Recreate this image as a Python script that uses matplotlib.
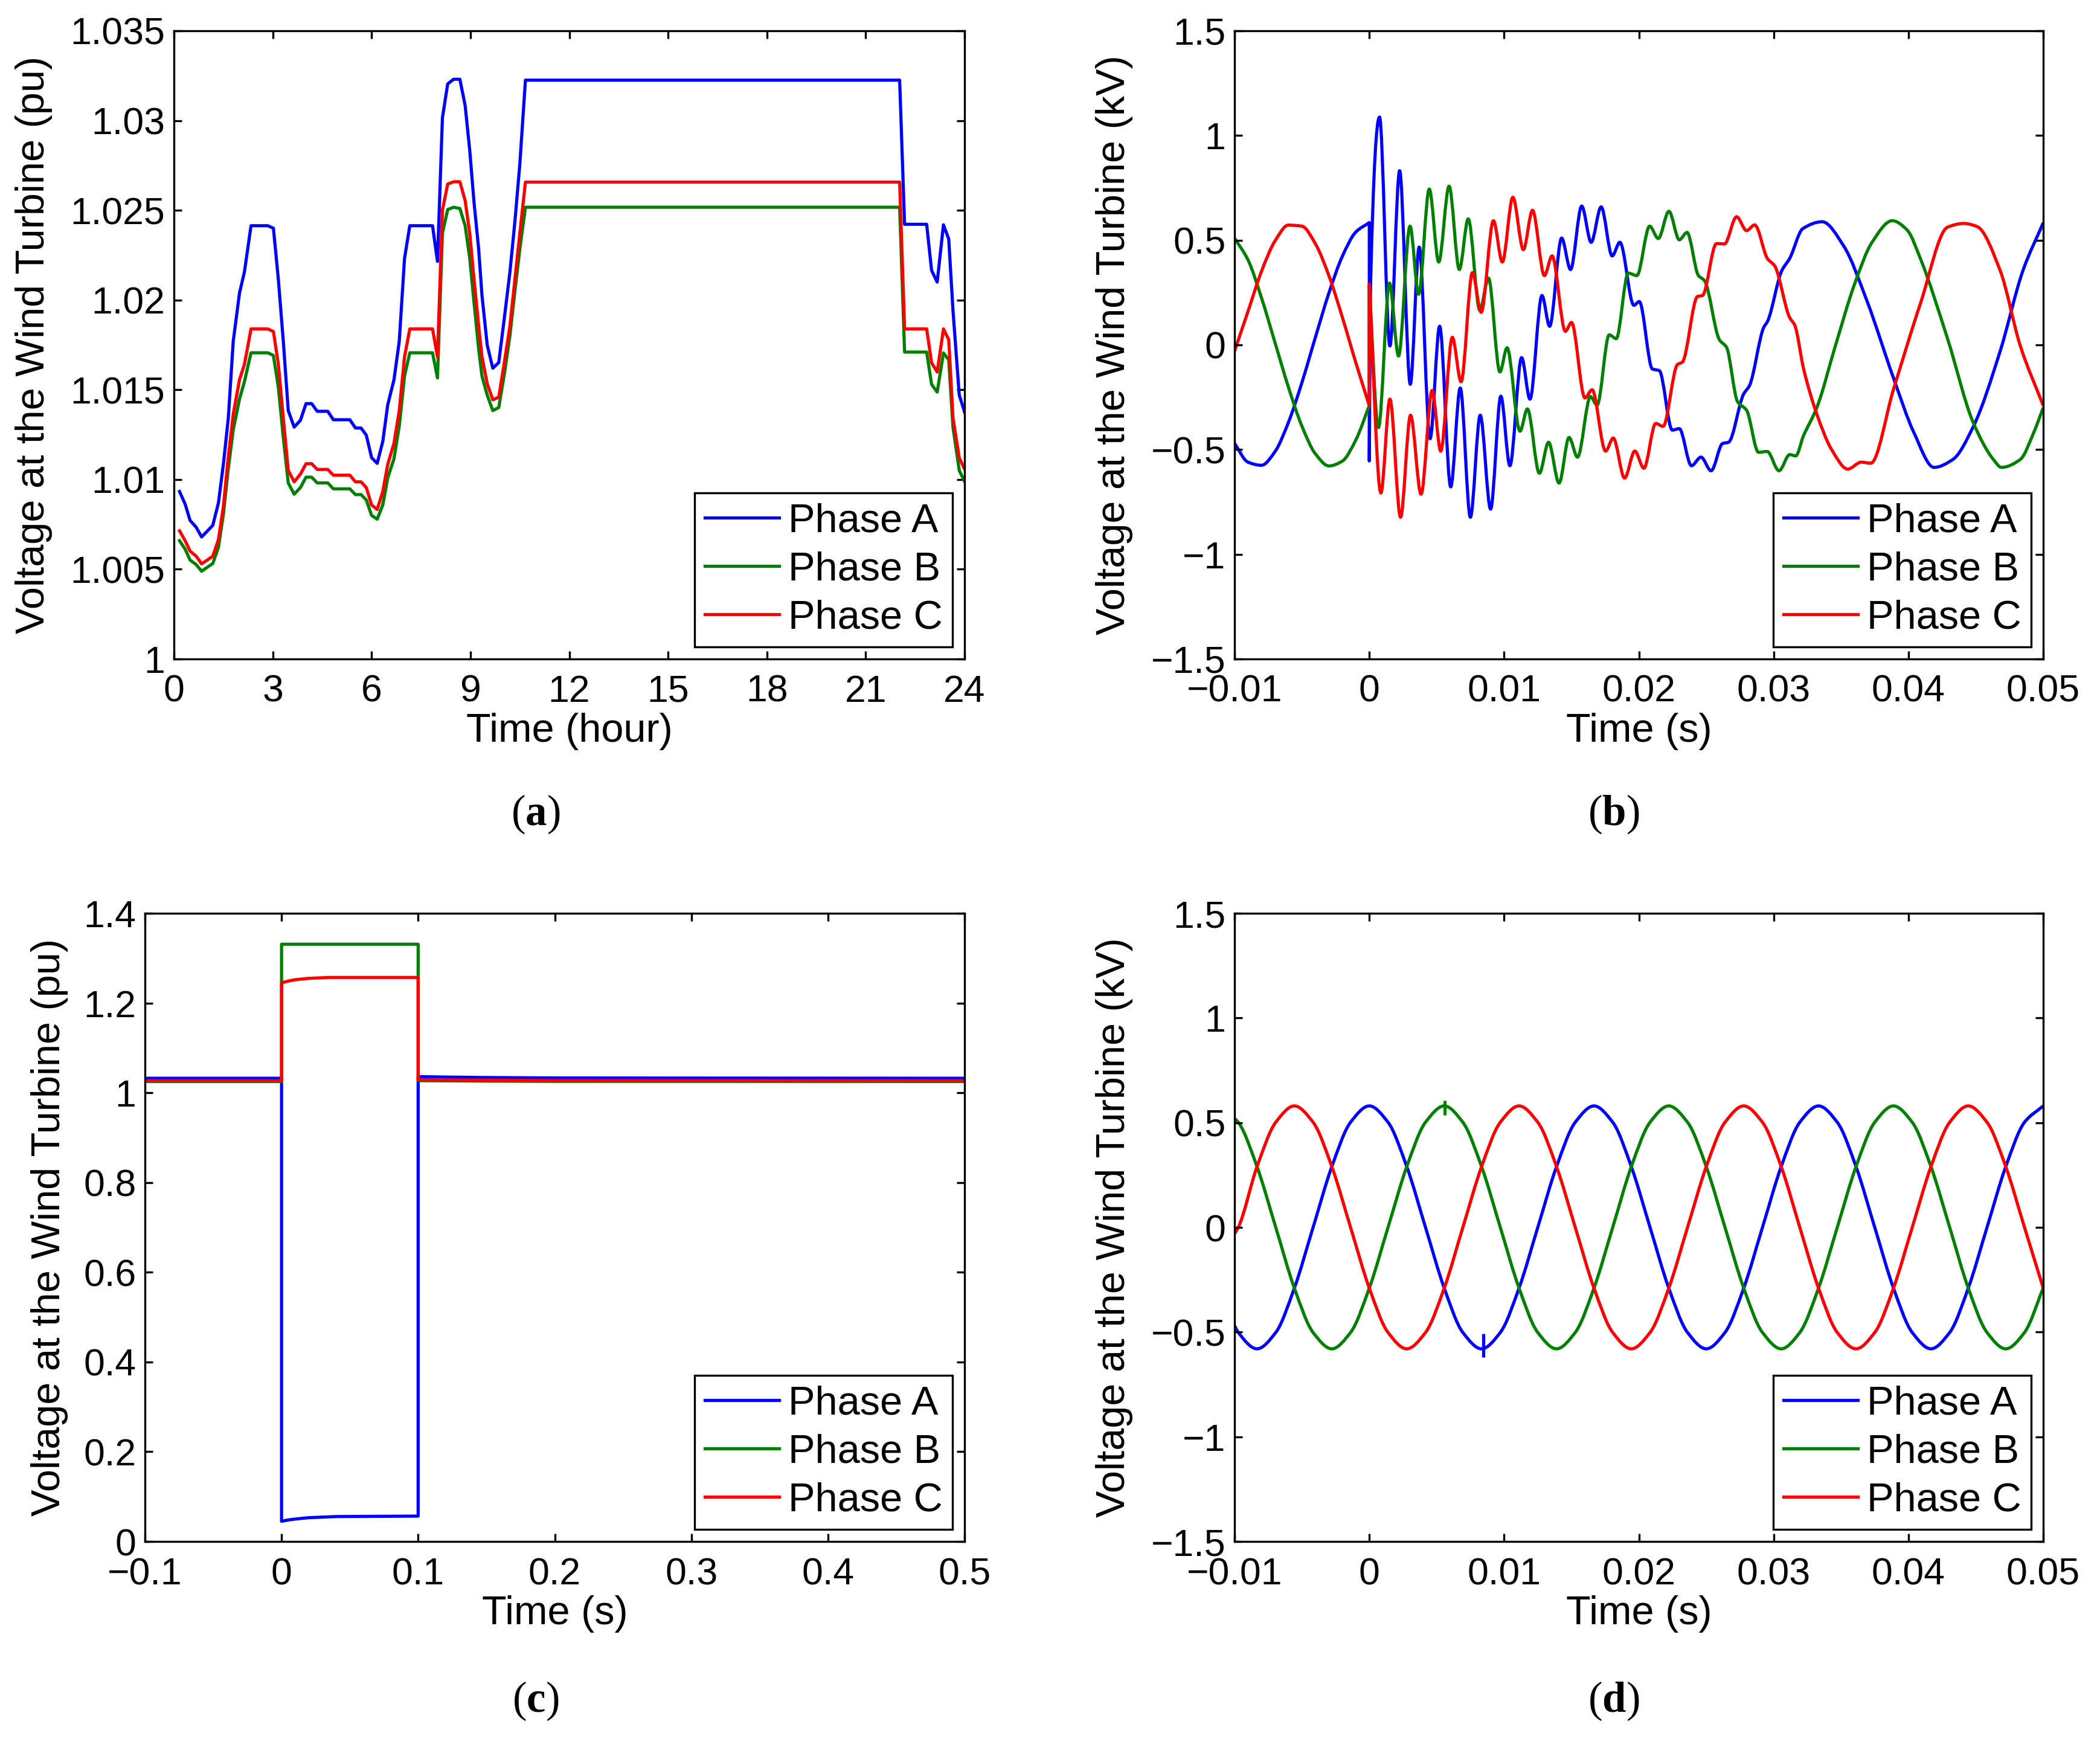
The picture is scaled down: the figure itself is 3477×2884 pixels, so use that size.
import numpy as np
import matplotlib
matplotlib.use("Agg")
import matplotlib.pyplot as plt
from matplotlib.path import Path
from matplotlib.patches import PathPatch
from matplotlib.lines import Line2D

plt.rcParams['font.family'] = ['Liberation Sans', 'DejaVu Sans']
plt.rcParams['mathtext.fontset'] = 'custom'
plt.rcParams['mathtext.rm'] = 'Liberation Serif'
plt.rcParams['mathtext.bf'] = 'Liberation Serif:bold'

# ---------------- data ----------------
phase_names = ['Phase A', 'Phase B', 'Phase C']
phase_colors = ['#0000ff', '#008000', '#ff0000']

# (a) 24-hour profile (pu)
hours = [0.17, 0.34, 0.49, 0.675, 0.84, 1.01, 1.18, 1.35, 1.5, 1.65,
         1.8, 1.99, 2.14, 2.34, 2.85, 3.02, 3.17, 3.32, 3.47, 3.65,
         3.84, 4.01, 4.18, 4.35, 4.67, 4.84, 5.34, 5.51, 5.68, 5.84,
         6.0, 6.17, 6.34, 6.49, 6.68, 6.84, 7.0, 7.16, 7.85, 8.0,
         8.15, 8.31, 8.49, 8.68, 8.84, 8.98, 9.11, 9.25, 9.35, 9.51,
         9.68, 9.86, 10.03, 10.2, 10.35, 10.5, 10.67, 22.03, 22.18, 22.85,
         23.0, 23.17, 23.36, 23.52, 23.65, 23.84, 24.0]
a_phaseA = [1.00933, 1.00863, 1.00772, 1.00734, 1.0068, 1.00712, 1.00745, 1.00869, 1.01084, 1.01341,
            1.0177, 1.02039, 1.02157, 1.02414, 1.02414, 1.024, 1.02114, 1.0177, 1.01384, 1.01292,
            1.0133, 1.01423, 1.01423, 1.0138, 1.0138, 1.01333, 1.01333, 1.01287, 1.01287, 1.01247,
            1.01122, 1.0109, 1.01212, 1.01416, 1.01556, 1.0177, 1.02232, 1.02414, 1.02414, 1.02215,
            1.03015, 1.03204, 1.0323, 1.0323, 1.03084, 1.02833, 1.02543, 1.02285, 1.02028, 1.01749,
            1.0162, 1.01652, 1.019, 1.02157, 1.02436, 1.02757, 1.03225, 1.03225, 1.02422, 1.02422,
            1.02165, 1.021, 1.02419, 1.0234, 1.0194, 1.0147, 1.01376]
a_phaseB = [1.00659, 1.00612, 1.00551, 1.00526, 1.00489, 1.00511, 1.00532, 1.00622, 1.00805, 1.01062,
            1.01277, 1.01448, 1.01545, 1.01706, 1.01706, 1.01691, 1.01513, 1.01234, 1.00981, 1.00918,
            1.00955, 1.01013, 1.01013, 1.00981, 1.00981, 1.00948, 1.00948, 1.00916, 1.00916, 1.00886,
            1.008, 1.00779, 1.00858, 1.01009, 1.01116, 1.01298, 1.01577, 1.01706, 1.01706, 1.01566,
            1.02371, 1.02504, 1.02517, 1.0251, 1.02414, 1.02232, 1.01985, 1.01727, 1.01577, 1.0147,
            1.01384, 1.01401, 1.01588, 1.01803, 1.02049, 1.02285, 1.02517, 1.02517, 1.0171, 1.0171,
            1.0153, 1.01487, 1.01705, 1.01667, 1.0129, 1.0105, 1.0099]
a_phaseC = [1.00714, 1.00659, 1.00601, 1.00573, 1.0053, 1.00551, 1.00573, 1.00665, 1.00848, 1.01127,
            1.01363, 1.01556, 1.01642, 1.01839, 1.01839, 1.01824, 1.01642, 1.01341, 1.01051, 1.00987,
            1.0103, 1.01088, 1.01088, 1.01056, 1.01056, 1.01024, 1.01024, 1.00987, 1.00987, 1.00955,
            1.00858, 1.00833, 1.00933, 1.01084, 1.01202, 1.01384, 1.01684, 1.01839, 1.01839, 1.01684,
            1.025, 1.02646, 1.02659, 1.02659, 1.02554, 1.02371, 1.02114, 1.01856, 1.01684, 1.01534,
            1.01444, 1.01459, 1.01652, 1.01856, 1.02114, 1.02371, 1.02657, 1.02657, 1.01839, 1.01839,
            1.0165, 1.01599, 1.01839, 1.01779, 1.01342, 1.0112, 1.01059]

# (b) fault transient waveform, (time ms, kV)
b_phaseA = [(-10, -0.47), (-9, -0.56), (-8, -0.575), (-7, -0.51), (-6, -0.37), (-5, -0.18), (-4, 0.036),
            (-3, 0.247), (-2, 0.423), (-1, 0.539), (0, 0.584), (0, -0.554), (0.1, 0.30), (0.76, 1.088),
            (1.53, -0.005), (2.25, 0.832), (3.04, -0.188), (3.70, 0.467), (4.51, -0.448), (5.22, 0.089),
            (6.04, -0.678), (6.75, -0.206), (7.5, -0.823), (8.23, -0.336), (9.0, -0.784), (9.76, -0.245),
            (10.43, -0.577), (11.3, -0.061), (11.92, -0.259), (12.81, 0.236), (13.38, 0.089), (14.27, 0.51),
            (14.93, 0.36), (15.76, 0.663), (16.46, 0.49), (17.2, 0.659), (18.02, 0.425), (18.59, 0.49),
            (19.63, 0.189), (20.03, 0.207), (21.0, -0.115), (21.52, -0.123), (22.48, -0.407), (23.0, -0.40),
            (23.9, -0.577), (24.61, -0.536), (25.36, -0.601), (26.21, -0.471), (26.65, -0.465), (27.77, -0.235),
            (28.21, -0.194), (29.26, 0.083), (29.55, 0.113), (30.6, 0.354), (31.19, 0.413), (32.16, 0.555),
            (33.6, 0.588), (35.2, 0.472), (36.9, 0.214), (38.9, -0.16), (40.4, -0.418), (41.9, -0.585),
            (43.3, -0.547), (44.8, -0.392), (46.8, -0.031), (48.5, 0.356), (50.0, 0.583)]
b_phaseB = [(-10, 0.51), (-9, 0.406), (-8, 0.225), (-7, 0.012), (-6, -0.202), (-5, -0.388), (-4, -0.52),
            (-3, -0.578), (-2, -0.555), (-1, -0.454), (0, -0.29), (0, 0.28), (0.68, -0.395), (1.50, 0.295),
            (2.17, -0.053), (3.02, 0.567), (3.66, 0.242), (4.45, 0.744), (5.15, 0.396), (5.92, 0.758),
            (6.68, 0.36), (7.34, 0.602), (8.2, 0.165), (8.84, 0.319), (9.69, -0.129), (10.22, -0.014),
            (11.18, -0.412), (11.73, -0.306), (12.62, -0.613), (13.3, -0.465), (14.08, -0.66), (14.82, -0.442),
            (15.45, -0.536), (16.41, -0.247), (16.9, -0.288), (17.8, 0.048), (18.32, 0.03), (19.21, 0.343),
            (19.85, 0.331), (20.8, 0.567), (21.44, 0.508), (22.23, 0.638), (23.0, 0.502), (23.57, 0.537),
            (24.42, 0.331), (24.87, 0.307), (25.98, 0.024), (26.5, -0.011), (27.32, -0.271), (27.99, -0.312),
            (28.88, -0.513), (29.52, -0.509), (30.4, -0.601), (31.19, -0.524), (31.64, -0.53), (32.2, -0.436),
            (33.2, -0.30), (34.6, 0.0), (36.0, 0.29), (37.3, 0.49), (38.8, 0.593), (39.9, 0.549), (40.9, 0.41),
            (42.9, 0.03), (44.8, -0.37), (46.3, -0.547), (46.9, -0.585), (48.3, -0.547), (49.3, -0.418),
            (50.0, -0.30)]
b_phaseC = [(-10, -0.03), (-9, 0.16), (-8, 0.351), (-7, 0.496), (-6, 0.572), (-5, 0.567), (-4, 0.483),
            (-3, 0.331), (-2, 0.132), (-1, -0.085), (0, -0.29), (0, 0.29), (0.86, -0.707), (1.53, -0.259),
            (2.32, -0.823), (3.06, -0.336), (3.84, -0.713), (4.66, -0.218), (5.3, -0.507), (6.16, 0.036),
            (6.81, -0.176), (7.65, 0.345), (8.30, 0.156), (9.21, 0.593), (9.87, 0.396), (10.65, 0.705),
            (11.43, 0.455), (12.11, 0.643), (12.99, 0.331), (13.56, 0.425), (14.55, 0.065), (15.0, 0.107),
            (16.0, -0.253), (16.53, -0.214), (17.53, -0.507), (18.1, -0.445), (18.94, -0.636), (19.7, -0.507),
            (20.37, -0.589), (21.25, -0.375), (21.79, -0.389), (22.86, -0.094), (23.23, -0.082), (24.35, 0.231),
            (24.72, 0.236), (25.76, 0.484), (26.35, 0.482), (27.25, 0.612), (27.99, 0.546), (28.59, 0.573),
            (29.55, 0.411), (30.07, 0.378), (31.19, 0.13), (31.56, 0.095), (32.23, -0.117), (33.2, -0.33),
            (34.3, -0.50), (35.5, -0.593), (36.5, -0.56), (37.2, -0.565), (38.9, -0.21), (40.9, 0.2),
            (42.9, 0.562), (44.1, 0.58), (45.1, 0.565), (46.8, 0.356), (48.3, -0.005), (50.0, -0.29)]

# (c) RMS voltage during the fault (time s, pu)
c_time_A = [-0.1, 0, 0, 0.005, 0.01, 0.02, 0.04, 0.1, 0.1, 0.12, 0.15, 0.2, 0.5]
c_phaseA = [1.0323, 1.0323, 0.045, 0.048, 0.050, 0.053, 0.0555, 0.0565, 1.036, 1.035, 1.034, 1.033, 1.0323]
c_time_B = [-0.1, 0, 0, 0.1, 0.1, 0.15, 0.2, 0.5]
c_phaseB = [1.0252, 1.0252, 1.331, 1.331, 1.027, 1.026, 1.0255, 1.0252]
c_time_C = [-0.1, 0, 0, 0.005, 0.01, 0.02, 0.035, 0.1, 0.1, 0.15, 0.2, 0.5]
c_phaseC = [1.0266, 1.0266, 1.245, 1.249, 1.252, 1.255, 1.257, 1.257, 1.029, 1.028, 1.027, 1.0266]

# (d) waveform with protection (time ms, kV)
d_time = [-10, -9.72, -8.33, -6.94, -5.56, -4.17, -2.78, -1.39, 0, 1.39, 2.78, 4.17, 5.56, 6.94, 8.33,
          9.72, 11.11, 12.5, 13.89, 15.28, 16.67, 18.06, 19.44, 20.83, 22.22, 23.61, 25.0, 26.39, 27.78,
          29.17, 30.56, 31.94, 33.33, 34.72, 36.11, 37.5, 38.89, 40.28, 41.67, 43.06, 44.44, 45.83, 47.22,
          48.61, 50.0]
d_phaseA = [-0.47, -0.502, -0.58, -0.502, -0.29, 0, 0.29, 0.502,
            0.58, 0.502, 0.29, 0, -0.29, -0.502, -0.58, -0.502, -0.29, 0, 0.29, 0.502,
            0.58, 0.502, 0.29, 0, -0.29, -0.502, -0.58, -0.502, -0.29, 0, 0.29, 0.502,
            0.58, 0.502, 0.29, 0, -0.29, -0.502, -0.58, -0.502, -0.29, 0, 0.29, 0.502,
            0.58]
d_phaseB = [0.52, 0.502, 0.29, 0, -0.29, -0.502, -0.58, -0.502,
            -0.29, 0, 0.29, 0.502, 0.58, 0.502, 0.29, 0, -0.29, -0.502, -0.58, -0.502,
            -0.29, 0, 0.29, 0.502, 0.58, 0.502, 0.29, 0, -0.29, -0.502, -0.58, -0.502,
            -0.29, 0, 0.29, 0.502, 0.58, 0.502, 0.29, 0, -0.29, -0.502, -0.58, -0.502,
            -0.29]
d_phaseC = [-0.03, 0, 0.29, 0.502, 0.58, 0.502, 0.29, 0,
            -0.29, -0.502, -0.58, -0.502, -0.29, 0, 0.29, 0.502, 0.58, 0.502, 0.29, 0,
            -0.29, -0.502, -0.58, -0.502, -0.29, 0, 0.29, 0.502, 0.58, 0.502, 0.29, 0,
            -0.29, -0.502, -0.58, -0.502, -0.29, 0, 0.29, 0.502, 0.58, 0.502, 0.29, 0,
            -0.29]
d_spike_time = [5.6, 8.45]          # ms
d_spike_low = [0.536, -0.62]
d_spike_high = [0.607, -0.509]
d_spike_phase = [1, 0]

# tick labels
a_xticks = [0, 3, 6, 9, 12, 15, 18, 21, 24]
a_yticks = [1.0, 1.005, 1.01, 1.015, 1.02, 1.025, 1.03, 1.035]
a_yticklabels = ['1', '1.005', '1.01', '1.015', '1.02', '1.025', '1.03', '1.035']
kv_xticks = [-0.01, 0, 0.01, 0.02, 0.03, 0.04, 0.05]
kv_xticklabels = ['\u22120.01', '0', '0.01', '0.02', '0.03', '0.04', '0.05']
kv_yticks = [-1.5, -1, -0.5, 0, 0.5, 1, 1.5]
kv_yticklabels = ['\u22121.5', '\u22121', '\u22120.5', '0', '0.5', '1', '1.5']
c_xticks = [-0.1, 0, 0.1, 0.2, 0.3, 0.4, 0.5]
c_xticklabels = ['\u22120.1', '0', '0.1', '0.2', '0.3', '0.4', '0.5']
c_yticks = [0, 0.2, 0.4, 0.6, 0.8, 1.0, 1.2, 1.4]
c_yticklabels = ['0', '0.2', '0.4', '0.6', '0.8', '1', '1.2', '1.4']

# ---------------- helpers ----------------
def smooth_path(x, y):
    """Monotone cubic (Fritsch-Carlson) curve through the points, as a Bezier path."""
    x = np.asarray(x, float)
    y = np.asarray(y, float)
    n = len(x)
    h = np.diff(x)
    d = np.array([(y[i + 1] - y[i]) / h[i] if h[i] > 0 else np.nan for i in range(n - 1)])
    m = np.zeros(n)
    for i in range(n):
        left = d[i - 1] if (i > 0 and h[i - 1] > 0) else None
        right = d[i] if (i < n - 1 and h[i] > 0) else None
        if left is None and right is None:
            m[i] = 0.0
        elif left is None:
            m[i] = right
        elif right is None:
            m[i] = left
        elif left * right <= 0:
            m[i] = 0.0
        else:
            hl, hr = h[i - 1], h[i]
            w1 = 2 * hr + hl
            w2 = hr + 2 * hl
            m[i] = (w1 + w2) / (w1 / left + w2 / right)
    verts = [(x[0], y[0])]
    codes = [Path.MOVETO]
    for i in range(n - 1):
        if h[i] <= 0:
            verts.append((x[i + 1], y[i + 1]))
            codes.append(Path.LINETO)
        else:
            verts += [(x[i] + h[i] / 3, y[i] + m[i] * h[i] / 3),
                      (x[i + 1] - h[i] / 3, y[i + 1] - m[i + 1] * h[i] / 3),
                      (x[i + 1], y[i + 1])]
            codes += [Path.CURVE4] * 3
    return Path(verts, codes)


def draw_smooth(ax, x, y, color, lw):
    patch = PathPatch(smooth_path(x, y), facecolor='none', edgecolor=color, lw=lw,
                      capstyle='butt', joinstyle='round')
    ax.add_patch(patch)


W, H = 3477, 2884
LW = 1.25
TICK_FS = 15
LABEL_FS = 16


def px_axes(fig, left, right, top, bottom):
    return fig.add_axes([left / W, 1 - bottom / H, (right - left) / W, (bottom - top) / H])


def style(ax, xlim, ylim, xticks, xticklabels, yticks, yticklabels, xlabel, ylabel, ylab_x):
    ax.set_xlim(*xlim)
    ax.set_ylim(*ylim)
    ax.set_xticks(xticks)
    ax.set_xticklabels(xticklabels)
    ax.set_yticks(yticks)
    ax.set_yticklabels(yticklabels)
    ax.tick_params(direction='in', top=True, right=True, length=3.2, width=0.8,
                   labelsize=TICK_FS, colors='black')
    ax.tick_params(axis='x', pad=6)
    ax.tick_params(axis='y', pad=3.5)
    for s in ax.spines.values():
        s.set_linewidth(0.8)
    ax.set_xlabel(xlabel, fontsize=LABEL_FS, va='center')
    ax.xaxis.set_label_coords(0.5, -0.115)
    ax.set_ylabel(ylabel, fontsize=LABEL_FS, va='center')
    ax.yaxis.set_label_coords(ylab_x, 0.5)
    handles = [Line2D([], [], color=c, lw=LW) for c in phase_colors]
    leg = ax.legend(handles, phase_names, loc='lower right', fontsize=LABEL_FS,
                    frameon=True, fancybox=False, framealpha=1, edgecolor='black',
                    handlelength=1.85, handletextpad=0.22, labelspacing=0.27,
                    borderpad=0.25, borderaxespad=0.3)
    leg.get_frame().set_linewidth(0.8)


fig = plt.figure(figsize=(W / 300, H / 300), dpi=300)

# (a)
ax_a = px_axes(fig, 288, 1597, 51, 1091)
for vals, c in zip([a_phaseA, a_phaseB, a_phaseC], phase_colors):
    ax_a.plot(hours, vals, color=c, lw=LW)
style(ax_a, (0, 24), (1.0, 1.035), a_xticks, [str(v) for v in a_xticks],
      a_yticks, a_yticklabels, 'Time (hour)', 'Voltage at the Wind Turbine (pu)', -0.177)

# (b)
ax_b = px_axes(fig, 2044, 3383, 51, 1091)
for series, c in zip([b_phaseA, b_phaseB, b_phaseC], phase_colors):
    t = [p[0] / 1000.0 for p in series]
    v = [p[1] for p in series]
    draw_smooth(ax_b, t, v, c, LW)
style(ax_b, (-0.01, 0.05), (-1.5, 1.5), kv_xticks, kv_xticklabels,
      kv_yticks, kv_yticklabels, 'Time (s)', 'Voltage at the Wind Turbine (kV)', -0.1486)

# (c)
ax_c = px_axes(fig, 240, 1597, 1512, 2552)
for tt, vals, c in zip([c_time_A, c_time_B, c_time_C], [c_phaseA, c_phaseB, c_phaseC], phase_colors):
    ax_c.plot(tt, vals, color=c, lw=LW)
style(ax_c, (-0.1, 0.5), (0, 1.4), c_xticks, c_xticklabels,
      c_yticks, c_yticklabels, 'Time (s)', 'Voltage at the Wind Turbine (pu)', -0.1164)

# (d)
ax_d = px_axes(fig, 2044, 3383, 1512, 2552)
d_t = [t / 1000.0 for t in d_time]
for vals, c in zip([d_phaseA, d_phaseB, d_phaseC], phase_colors):
    draw_smooth(ax_d, d_t, vals, c, LW)
for ts, lo, hi, ph in zip(d_spike_time, d_spike_low, d_spike_high, d_spike_phase):
    ax_d.vlines(ts / 1000.0, lo, hi, color=phase_colors[ph], lw=LW)
style(ax_d, (-0.01, 0.05), (-1.5, 1.5), kv_xticks, kv_xticklabels,
      kv_yticks, kv_yticklabels, 'Time (s)', 'Voltage at the Wind Turbine (kV)', -0.1486)

# panel captions
for letter, (px, py) in zip('abcd', [(887, 1348), (2672, 1348), (887, 2816), (2672, 2816)]):
    fig.text(px / W, 1 - py / H, r'$\mathrm{(}\mathbf{%s}\mathrm{)}$' % letter,
             fontsize=17, ha='center', va='center')

fig.savefig('out.png', dpi=300)
